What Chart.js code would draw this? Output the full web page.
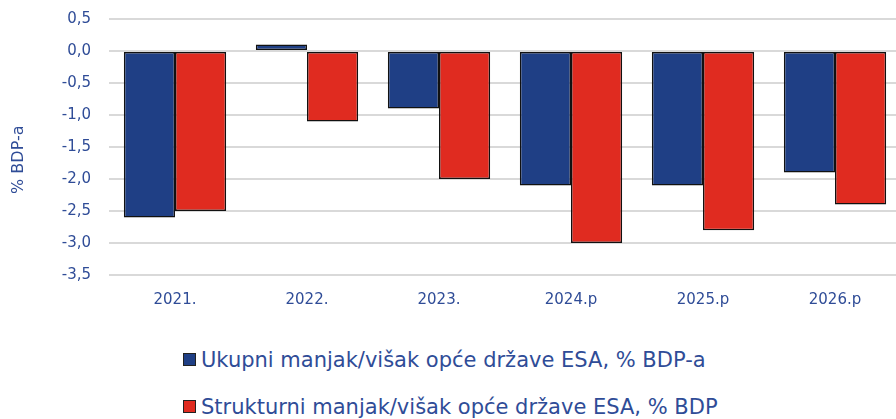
<!DOCTYPE html>
<html>
<head>
<meta charset="utf-8">
<script src="https://cdn.jsdelivr.net/npm/chart.js@4/dist/chart.umd.min.js"></script>
<style>
  html, body { margin: 0; padding: 0; background: #fff; overflow: hidden; }
  #wrap { position: relative; width: 901px; height: 325px; margin-top: -8px; }
  .legend { position: absolute; left: 183px; font-family: "DejaVu Sans", sans-serif; font-size: 21px; color: #2F4C97; white-space: nowrap; }
  .legend span.box { display: inline-block; width: 11px; height: 11px; border: 1px solid #222; margin-right: 5px; vertical-align: 1px; }
</style>
</head>
<body>
<div id="wrap"><canvas id="chart"></canvas></div>
<div class="legend" style="top: 348px"><span class="box" style="background:#1F3F85"></span>Ukupni manjak/višak opće države ESA, % BDP-a</div>
<div class="legend" style="top: 395px"><span class="box" style="background:#E02B20"></span>Strukturni manjak/višak opće države ESA, % BDP</div>
<script>
const categories = ['2021.', '2022.', '2023.', '2024.p', '2025.p', '2026.p']
const ukupni = [-2.6, 0.1, -0.9, -2.1, -2.1, -1.9]
const strukturni = [-2.5, -1.1, -2.0, -3.0, -2.8, -2.4]
const yTicks = [0.5, 0, -0.5, -1, -1.5, -2, -2.5, -3, -3.5]

const textColor = '#2F4C97'
const gridColor = '#D9D9D9'

new Chart(document.getElementById('chart'), {
  type: 'bar',
  data: {
    labels: categories,
    datasets: [
      { label: 'Ukupni manjak/višak opće države ESA, % BDP-a', data: ukupni, backgroundColor: '#1F3F85' },
      { label: 'Strukturni manjak/višak opće države ESA, % BDP', data: strukturni, backgroundColor: '#E02B20' }
    ]
  },
  options: {
    responsive: true,
    maintainAspectRatio: false,
    animation: false,
    layout: { padding: 0 },
    datasets: {
      bar: { categoryPercentage: 0.775, barPercentage: 1.0, borderColor: '#111', borderWidth: 1.5, borderSkipped: false }
    },
    plugins: { legend: { display: false }, tooltip: { enabled: false } },
    scales: {
      x: {
        grid: { display: false },
        border: { display: false },
        ticks: { color: textColor, font: { family: 'DejaVu Sans', size: 15 }, padding: 8 }
      },
      y: {
        min: -3.5,
        max: 0.5,
        afterBuildTicks: (s) => { s.ticks = yTicks.map(v => ({ value: v })) },
        afterFit: (s) => { s.width = 109 },
        grid: { color: gridColor, lineWidth: 2, drawTicks: false },
        border: { display: false },
        ticks: {
          color: textColor,
          font: { family: 'DejaVu Sans', size: 15 },
          padding: 18,
          callback: (v) => v.toFixed(1).replace('.', ',')
        },
        title: { display: true, text: '% BDP-a     ', color: textColor, font: { family: 'DejaVu Sans', size: 16 }, padding: { top: 9, bottom: 0 } }
      }
    }
  }
})
</script>
</body>
</html>
